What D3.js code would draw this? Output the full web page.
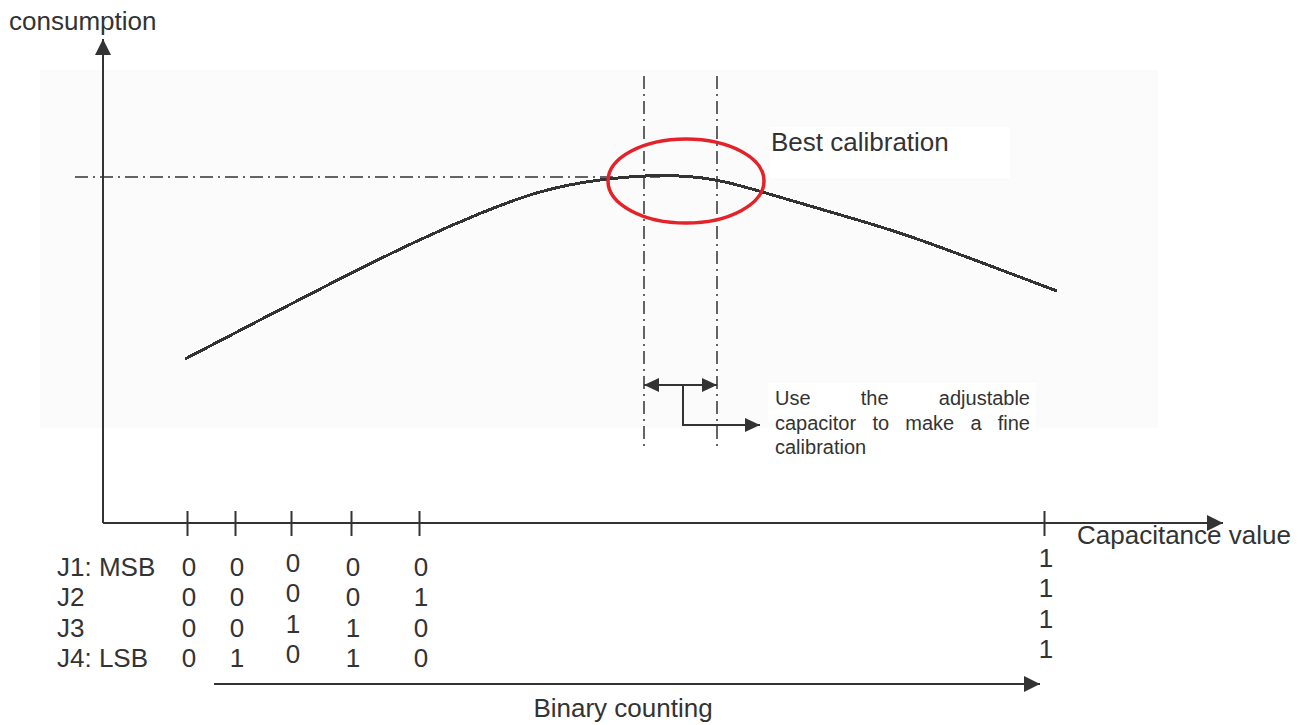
<!DOCTYPE html>
<html>
<head>
<meta charset="utf-8">
<script src="https://cdn.jsdelivr.net/npm/d3@7"></script>
<style>
    body { margin: 0; background: #fff; }
    svg  { display: block; font-family: "Liberation Sans", Arial, sans-serif; }
</style>
</head>
<body>
<svg id="chart" width="1313" height="725"></svg>
<script>
// consumption against capacitance (arbitrary units)
var curveCap  = [8.2, 15.7, 23.2, 31.7, 37.7, 43.7, 49.7, 54.7, 58.7, 61.7, 66, 72.7, 79.7, 87.7, 95.4];
var curveCons = [41, 50.75, 60.5, 71, 77.5, 83.25, 86, 87, 86.75, 85.75, 82.75, 77.75, 72.75, 65.25, 58];

var bestCons   = 86.5;          // horizontal reference level
var fineWindow = [54.1, 61.4];  // adjustable capacitor range

// jumper codes on the capacitance axis
var codes    = ['0000', '0001', '0010', '0011', '0100', '1111'];
var codeCap  = [8.4, 13.2, 18.8, 24.8, 31.6, 94.1];
var jumpers  = ['J1: MSB', 'J2', 'J3', 'J4: LSB'];

var annotation = ['Use the adjustable', 'capacitor to make a fine', 'calibration'];

var ink = '#333';
var svg = d3.select('#chart');

var x = d3.scaleLinear().domain([0, 112]).range([103, 1223]);
var y = d3.scaleLinear().domain([0, 121]).range([523, 39]);

// arrow heads
var defs = svg.append('defs');
function marker(id, len, half) {
    defs.append('marker')
        .attr('id', id)
        .attr('markerUnits', 'userSpaceOnUse')
        .attr('viewBox', `0 ${ -half } ${ len } ${ half * 2 }`)
        .attr('refX', len).attr('refY', 0)
        .attr('markerWidth', len).attr('markerHeight', half * 2)
        .attr('orient', 'auto-start-reverse')
        .append('path')
        .attr('d', `M0,${ -half }L${ len },0L0,${ half }Z`)
        .attr('fill', ink);
}
marker('arrow', 16, 8);
marker('arrowSmall', 15, 7);

// faint plot background
svg.append('rect')
    .attr('x', 40).attr('y', 70)
    .attr('width', 1118).attr('height', 358)
    .attr('fill', '#fbfbfb');

// axes
svg.append('line')
    .attr('x1', x(0)).attr('x2', x(0))
    .attr('y1', y(0)).attr('y2', y(121))
    .attr('stroke', ink).attr('stroke-width', 2)
    .attr('marker-end', 'url(#arrow)');

svg.append('line')
    .attr('x1', x(0)).attr('x2', x(112))
    .attr('y1', y(0)).attr('y2', y(0))
    .attr('stroke', ink).attr('stroke-width', 2)
    .attr('marker-end', 'url(#arrow)');

var xAxis = d3.axisBottom(x)
    .tickValues(codeCap)
    .tickSizeInner(13)
    .tickSizeOuter(0)
    .tickFormat('');

var axisG = svg.append('g')
    .attr('transform', `translate(0, ${ y(0) })`)
    .call(xAxis);
axisG.select('.domain').remove();
axisG.selectAll('.tick line')
    .attr('y1', -12)
    .attr('stroke', ink)
    .attr('stroke-width', 2);

// axis titles
svg.append('text')
    .attr('x', 9).attr('y', 30)
    .attr('font-size', 26).attr('fill', ink)
    .text('consumption');

svg.append('text')
    .attr('x', 1077).attr('y', 544)
    .attr('font-size', 26).attr('fill', ink)
    .text('Capacitance value');

// dash-dot guides
var dashDot = '13,5,2,5';
svg.append('line')
    .attr('x1', 75).attr('x2', x(55.7))
    .attr('y1', y(bestCons)).attr('y2', y(bestCons))
    .attr('stroke', ink).attr('stroke-width', 1.5)
    .attr('stroke-dasharray', dashDot);

svg.selectAll('.guide')
    .data(fineWindow)
    .enter().append('line')
    .attr('class', 'guide')
    .attr('x1', d => x(d)).attr('x2', d => x(d))
    .attr('y1', 76).attr('y2', 446)
    .attr('stroke', ink).attr('stroke-width', 1.5)
    .attr('stroke-dasharray', dashDot);

// consumption curve
var line = d3.line()
    .x(d => x(d[0]))
    .y(d => y(d[1]))
    .curve(d3.curveBasis);

svg.append('path')
    .datum(d3.zip(curveCap, curveCons))
    .attr('d', line)
    .attr('fill', 'none')
    .attr('stroke', ink)
    .attr('stroke-width', 3)
    .attr('shape-rendering', 'crispEdges');

// best calibration label
svg.append('rect')
    .attr('x', 770).attr('y', 127)
    .attr('width', 240).attr('height', 51)
    .attr('fill', '#fff');

svg.append('text')
    .attr('x', 771).attr('y', 151)
    .attr('font-size', 26).attr('fill', ink)
    .text('Best calibration');

svg.append('ellipse')
    .attr('cx', 686).attr('cy', 181)
    .attr('rx', 78).attr('ry', 42)
    .attr('fill', 'none')
    .attr('stroke', '#e3222a')
    .attr('stroke-width', 3.5);

// fine calibration arrows
var arrowY = 385;
svg.append('line')
    .attr('x1', x(fineWindow[0])).attr('x2', x(fineWindow[1]))
    .attr('y1', arrowY).attr('y2', arrowY)
    .attr('stroke', ink).attr('stroke-width', 2)
    .attr('marker-start', 'url(#arrowSmall)')
    .attr('marker-end', 'url(#arrowSmall)');

svg.append('path')
    .attr('d', `M683,${ arrowY }V425H760`)
    .attr('fill', 'none')
    .attr('stroke', ink).attr('stroke-width', 2)
    .attr('marker-end', 'url(#arrowSmall)');

svg.append('rect')
    .attr('x', 768).attr('y', 383)
    .attr('width', 268).attr('height', 46)
    .attr('fill', '#fff');

// justified annotation
var noteLeft = 775, noteRight = 1030;
annotation.forEach(function (text, i) {
    var lineY = 405 + i * 24.5;
    var words = text.split(' ');
    var justify = i < annotation.length - 1 && words.length > 1;
    var g = svg.append('g');
    var nodes = words.map(function (w) {
        return g.append('text')
            .attr('y', lineY)
            .attr('font-size', 20).attr('fill', ink)
            .text(w);
    });
    var widths = nodes.map(n => n.node().getComputedTextLength());
    var gap = justify ? (noteRight - noteLeft - d3.sum(widths)) / (words.length - 1) : 5.5;
    var cx = noteLeft;
    nodes.forEach(function (n, k) {
        n.attr('x', cx);
        cx += widths[k] + gap;
    });
});

// jumper table
var rowBase = [576, 606, 637, 667];
var colShift = [0, 0, -4, 0, 0, -9];

svg.selectAll('.jumper')
    .data(jumpers)
    .enter().append('text')
    .attr('class', 'jumper')
    .attr('x', 57)
    .attr('y', (d, i) => rowBase[i])
    .attr('font-size', 26).attr('fill', ink)
    .text(d => d);

var cells = [];
codes.forEach(function (code, c) {
    code.split('').forEach(function (bit, r) {
        cells.push({ col: c, row: r, bit: bit });
    });
});

svg.selectAll('.bit')
    .data(cells)
    .enter().append('text')
    .attr('class', 'bit')
    .attr('x', d => x(codeCap[d.col]) + 2)
    .attr('y', d => rowBase[d.row] + colShift[d.col])
    .attr('text-anchor', 'middle')
    .attr('font-size', 26).attr('fill', ink)
    .text(d => d.bit);

// binary counting arrow
svg.append('line')
    .attr('x1', 214).attr('x2', 1040)
    .attr('y1', 684).attr('y2', 684)
    .attr('stroke', ink).attr('stroke-width', 2)
    .attr('marker-end', 'url(#arrow)');

svg.append('text')
    .attr('x', 623).attr('y', 717)
    .attr('text-anchor', 'middle')
    .attr('font-size', 26).attr('fill', ink)
    .text('Binary counting');
</script>
</body>
</html>
